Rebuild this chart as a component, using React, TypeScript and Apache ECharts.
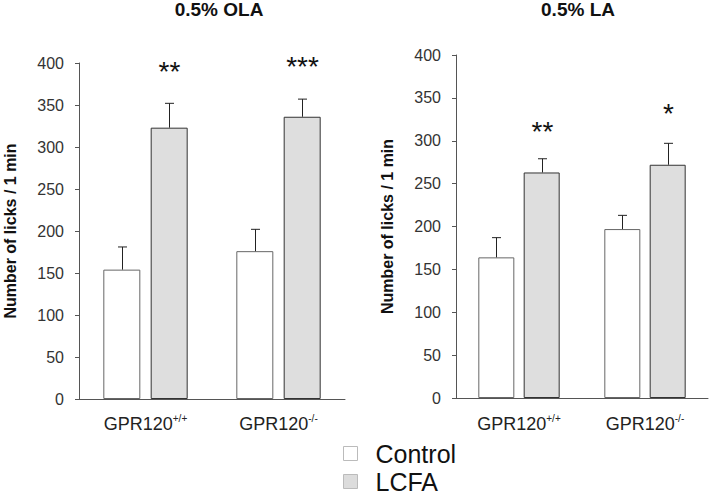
import React, { useEffect, useRef } from "react";
import * as echarts from "echarts";

const categories = ["GPR120+/+", "GPR120-/-"];
const yTicks = [0, 50, 100, 150, 200, 250, 300, 350, 400];

const olaControl = [154, 176];
const olaControlErr = [27, 26];
const olaLcfa = [323, 336];
const olaLcfaErr = [29, 21];
const olaStars = ["**", "***"];
const olaStarLevel = [395, 401];

const laControl = [164, 197];
const laControlErr = [23, 16];
const laLcfa = [263, 272];
const laLcfaErr = [16, 25];
const laStars = ["**", "*"];
const laStarLevel = [315, 336];

const legendNames = ["Control", "LCFA"];

const FONT = "'Liberation Sans', Arial, sans-serif";

function errorSeries(
  name: string,
  axisIndex: number,
  values: number[],
  errs: number[],
  offset: number,
  stars: string[] | null,
  starLevel: number[] | null
) {
  return {
    type: "custom",
    name: name + "-err",
    xAxisIndex: axisIndex,
    yAxisIndex: axisIndex,
    z: 5,
    silent: true,
    clip: false,
    data: values.map((v, i) => [i, v, errs[i], starLevel ? starLevel[i] : 0]),
    renderItem: (params: any, api: any) => {
      const idx = api.value(0);
      const v = api.value(1);
      const e = api.value(2);
      const base = api.coord([idx, v]);
      const top = api.coord([idx, v + e]);
      const x = Math.round(base[0] + offset) + 0.5;
      const children: any[] = [
        {
          type: "line",
          shape: { x1: x, y1: base[1], x2: x, y2: top[1] },
          style: { stroke: "#222", lineWidth: 1 },
        },
        {
          type: "line",
          shape: { x1: x - 4.5, y1: top[1], x2: x + 4.5, y2: top[1] },
          style: { stroke: "#222", lineWidth: 1 },
        },
      ];
      if (stars && stars[idx]) {
        const sp = api.coord([idx, api.value(3)]);
        children.push({
          type: "text",
          x: x,
          y: sp[1] + 4,
          style: {
            text: stars[idx],
            fontSize: 28,
            fontFamily: FONT,
            fill: "#111",
            textAlign: "center",
            textVerticalAlign: "middle",
          },
        });
      }
      return { type: "group", children };
    },
  };
}

export default function App() {
  const ref = useRef<HTMLDivElement>(null);

  useEffect(() => {
    if (!ref.current) return;
    const chart = echarts.init(ref.current, null, { renderer: "svg" });

    const xAxisCommon = (gridIndex: number, margin: number) => ({
      type: "category",
      gridIndex,
      data: categories,
      axisLine: { lineStyle: { color: "#555", width: 1 } },
      axisTick: { show: false },
      axisLabel: {
        margin,
        interval: 0,
        color: "#222",
        formatter: (v: string) => {
          const sup = v.replace("GPR120", "");
          return "{b|GPR120}{s|" + sup + "}";
        },
        rich: {
          b: { fontSize: 18, fontFamily: FONT, color: "#222", lineHeight: 20, verticalAlign: "bottom" },
          s: { fontSize: 10, fontFamily: FONT, color: "#222", lineHeight: 20, verticalAlign: "top", padding: [0, 0, 8, 0] },
        },
      },
    });

    const yAxisCommon = (gridIndex: number) => ({
      type: "value",
      gridIndex,
      min: 0,
      max: yTicks[yTicks.length - 1],
      interval: yTicks[1] - yTicks[0],
      name: "Number of licks / 1 min",
      nameLocation: "middle",
      nameGap: 61,
      nameTextStyle: { fontSize: 16, fontWeight: "bold", color: "#111", fontFamily: FONT },
      splitLine: { show: false },
      axisLine: { show: true, lineStyle: { color: "#555", width: 1 } },
      axisTick: { show: true, length: 4, lineStyle: { color: "#555" } },
      axisLabel: { margin: 15, fontSize: 16, color: "#333", fontFamily: FONT },
    });

    const controlStyle = { color: "#ffffff", borderColor: "#666", borderWidth: 1 };
    const lcfaStyle = { color: "#dedede", borderColor: "#333", borderWidth: 1 };
    const legendIconStyles = [
      { color: "#ffffff", borderColor: "#bbb", borderWidth: 1 },
      { color: "#dcdcdc", borderColor: "#bbb", borderWidth: 1 },
    ];
    const legendTops = [441, 469];

    chart.setOption({
      animation: false,
      textStyle: { fontFamily: FONT },
      title: [
        {
          text: "0.5% OLA",
          left: 219,
          top: 0,
          padding: 0,
          textAlign: "center",
          textStyle: { fontSize: 19, fontWeight: "bold", color: "#111", fontFamily: FONT },
        },
        {
          text: "0.5% LA",
          left: 578,
          top: 0,
          padding: 0,
          textAlign: "center",
          textStyle: { fontSize: 19, fontWeight: "bold", color: "#111", fontFamily: FONT },
        },
      ],
      legend: legendNames.map((n, i) => ({
        left: 343,
        top: legendTops[i],
        padding: 0,
        itemWidth: 14,
        itemHeight: 14,
        icon: "rect",
        selectedMode: false,
        textStyle: { fontSize: 25, color: "#111", fontFamily: FONT, padding: [0, 0, 0, 13] },
        data: [{ name: n, itemStyle: legendIconStyles[i] }],
      })),
      grid: [
        { left: 79, top: 63, width: 266, height: 336 },
        { left: 456, top: 55, width: 252, height: 343 },
      ],
      xAxis: [xAxisCommon(0, 14), xAxisCommon(1, 15)],
      yAxis: [yAxisCommon(0), yAxisCommon(1)],
      series: [
        {
          type: "bar",
          name: "Control",
          xAxisIndex: 0,
          yAxisIndex: 0,
          barWidth: 37,
          barGap: "28%",
          itemStyle: controlStyle,
          data: olaControl,
        },
        {
          type: "bar",
          name: "LCFA",
          xAxisIndex: 0,
          yAxisIndex: 0,
          barWidth: 37,
          barGap: "28%",
          itemStyle: lcfaStyle,
          data: olaLcfa,
        },
        {
          type: "bar",
          name: "Control",
          xAxisIndex: 1,
          yAxisIndex: 1,
          barWidth: 36,
          barGap: "26%",
          itemStyle: controlStyle,
          data: laControl,
        },
        {
          type: "bar",
          name: "LCFA",
          xAxisIndex: 1,
          yAxisIndex: 1,
          barWidth: 36,
          barGap: "26%",
          itemStyle: lcfaStyle,
          data: laLcfa,
        },
        errorSeries("olaControl", 0, olaControl, olaControlErr, -(37 + 10.4) / 2, null, null),
        errorSeries("olaLcfa", 0, olaLcfa, olaLcfaErr, (37 + 10.4) / 2, olaStars, olaStarLevel),
        errorSeries("laControl", 1, laControl, laControlErr, -(36 + 9.4) / 2, null, null),
        errorSeries("laLcfa", 1, laLcfa, laLcfaErr, (36 + 9.4) / 2, laStars, laStarLevel),
      ],
    });

    return () => chart.dispose();
  }, []);

  return (
    <div
      ref={ref}
      style={{ position: "absolute", left: 0, top: 0, width: 711, height: 497, background: "#fff" }}
    />
  );
}
